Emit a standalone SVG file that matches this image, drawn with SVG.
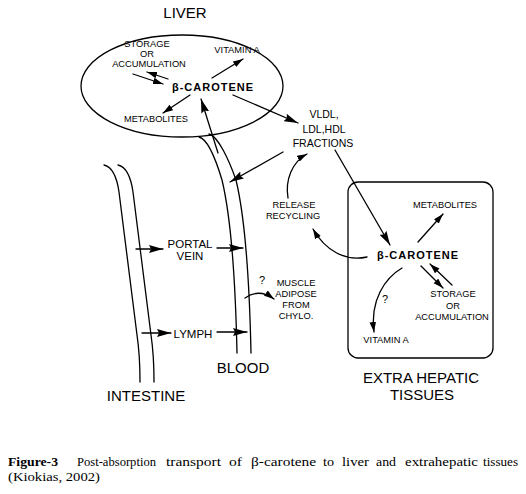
<svg xmlns="http://www.w3.org/2000/svg" width="526" height="494" viewBox="0 0 526 494">
<style>
  .ln{fill:none;stroke:#000;stroke-width:1.3;stroke-linecap:round}
  .t{font-family:"Liberation Sans",Arial,sans-serif;fill:#000;text-anchor:middle}
  .s{font-size:9.3px}
  .q{font-size:11px}
  .m{font-size:10.5px}
  .p{font-size:11.5px}
  .L{font-size:15px}
  .b{font-size:11px;font-weight:bold;letter-spacing:1px}
  .c{font-family:"Liberation Serif","Times New Roman",serif;font-size:13.5px;fill:#000}
</style>
<defs>
  <marker id="hs" markerUnits="userSpaceOnUse" markerWidth="11" markerHeight="7" refX="10" refY="3.25" orient="auto">
    <path d="M0,0 L10,3.25 L0,6.5 z" fill="#000"/>
  </marker>
  <marker id="hb" markerUnits="userSpaceOnUse" markerWidth="15" markerHeight="8" refX="14" refY="4" orient="auto">
    <path d="M0,0 L14,4 L0,8 L2,4 z" fill="#000"/>
  </marker>
</defs>
<rect width="526" height="494" fill="#fff"/>

<g id="liver">
  <ellipse cx="182" cy="86" rx="101" ry="51" class="ln"/>
  <text class="t L" x="185" y="18">LIVER</text>
  <text class="t s" x="147" y="47">STORAGE</text>
  <text class="t s" x="147" y="57">OR</text>
  <text class="t s" x="149" y="67">ACCUMULATION</text>
  <text class="t s" x="237" y="53">VITAMIN A</text>
  <text class="t b" x="213" y="91">β-CAROTENE</text>
  <text class="t s" x="156" y="122" textLength="64" lengthAdjust="spacingAndGlyphs">METABOLITES</text>
</g>

<g id="vldl">
  <text class="t m" x="324" y="118">VLDL,</text>
  <text class="t m" x="324" y="133">LDL,HDL</text>
  <text class="t m" x="323" y="147">FRACTIONS</text>
</g>

<g id="release">
  <text class="t s" x="294" y="208">RELEASE</text>
  <text class="t s" x="293" y="219">RECYCLING</text>
</g>

<g id="intestine">
  <path class="ln" d="M104,165 C113,167 117,178 119,192 L137,335 Q140,355 140,382"/>
  <path class="ln" d="M118,165 C127,167 131,178 133,192 L151,335 Q154,355 154,382"/>
  <text class="t L" x="146" y="401">INTESTINE</text>
</g>

<g id="blood">
  <path class="ln" d="M199,137 C208,139 216,160 222,180 C228,205 235,260 237,353"/>
  <path class="ln" d="M209,134 C218,136 229,160 236,180 C242,205 249,260 251,353"/>
  <text class="t L" x="243" y="373">BLOOD</text>
</g>

<g id="portal">
  <text class="t p" x="190" y="248">PORTAL</text>
  <text class="t p" x="190" y="260">VEIN</text>
</g>

<g id="lymph">
  <text class="t p" x="193" y="338">LYMPH</text>
</g>

<g id="muscle">
  <text class="t q" x="262" y="284">?</text>
  <text class="t s" x="296" y="286">MUSCLE</text>
  <text class="t s" x="296" y="297">ADIPOSE</text>
  <text class="t s" x="296" y="308">FROM</text>
  <text class="t s" x="296" y="319">CHYLO.</text>
</g>

<g id="extrahepatic">
  <rect x="348" y="182" width="145" height="176" rx="10" class="ln" stroke-width="1.5"/>
  <text class="t s" x="445" y="208" textLength="64" lengthAdjust="spacingAndGlyphs">METABOLITES</text>
  <text class="t b" x="418" y="259">β-CAROTENE</text>
  <text class="t q" x="385" y="303">?</text>
  <text class="t s" x="453" y="297">STORAGE</text>
  <text class="t s" x="453" y="309">OR</text>
  <text class="t s" x="452" y="320">ACCUMULATION</text>
  <text class="t s" x="386" y="343">VITAMIN A</text>
  <text class="t L" x="421" y="383">EXTRA HEPATIC</text>
  <text class="t L" x="422" y="400">TISSUES</text>
</g>

<g id="connectors">
  <line class="ln" x1="133" y1="74" x2="163" y2="84" marker-end="url(#hs)"/>
  <line class="ln" x1="168" y1="79" x2="147" y2="72" marker-end="url(#hs)"/>
  <line class="ln" x1="212" y1="78" x2="243" y2="59" marker-end="url(#hs)"/>
  <line class="ln" x1="190" y1="95" x2="163" y2="113" marker-end="url(#hs)"/>
  <line class="ln" x1="218" y1="153" x2="201" y2="99" marker-end="url(#hb)"/>
  <line class="ln" x1="233" y1="95" x2="298" y2="123" marker-end="url(#hb)"/>
  <line class="ln" x1="283" y1="152" x2="230" y2="182" marker-end="url(#hb)"/>
  <path class="ln" d="M288,198 C285,180 292,162 307,154" marker-end="url(#hs)"/>
  <line class="ln" x1="335" y1="150" x2="390" y2="245" marker-end="url(#hb)"/>
  <path class="ln" d="M367,257 C345,262 325,250 313,229" marker-end="url(#hs)"/>
  <line class="ln" x1="418" y1="242" x2="443" y2="214" marker-end="url(#hs)"/>
  <line class="ln" x1="421" y1="266" x2="443" y2="288" marker-end="url(#hs)"/>
  <line class="ln" x1="452" y1="285" x2="430" y2="264" marker-end="url(#hs)"/>
  <path class="ln" d="M402,268 C385,278 370,300 374,332" marker-end="url(#hs)"/>
  <path class="ln" d="M245,298 Q259,288 274,299" marker-end="url(#hs)"/>
  <line class="ln" x1="136" y1="249" x2="163" y2="249" marker-end="url(#hb)"/>
  <line class="ln" x1="217" y1="248" x2="243" y2="248" marker-end="url(#hb)"/>
  <line class="ln" x1="142" y1="333" x2="171" y2="333" marker-end="url(#hb)"/>
  <line class="ln" x1="217" y1="332" x2="247" y2="332" marker-end="url(#hb)"/>
</g>

<g id="caption">
  <text class="c" x="8" y="466" font-weight="bold" textLength="50" lengthAdjust="spacingAndGlyphs">Figure-3</text>
  <text class="c" x="77" y="466" textLength="79" lengthAdjust="spacingAndGlyphs">Post-absorption</text>
  <text class="c" x="166" y="466" textLength="55" lengthAdjust="spacingAndGlyphs">transport</text>
  <text class="c" x="229" y="466" textLength="13" lengthAdjust="spacingAndGlyphs">of</text>
  <text class="c" x="251" y="466" textLength="65" lengthAdjust="spacingAndGlyphs">β-carotene</text>
  <text class="c" x="323" y="466" textLength="11" lengthAdjust="spacingAndGlyphs">to</text>
  <text class="c" x="342" y="466" textLength="27" lengthAdjust="spacingAndGlyphs">liver</text>
  <text class="c" x="376" y="466" textLength="20" lengthAdjust="spacingAndGlyphs">and</text>
  <text class="c" x="405" y="466" textLength="73" lengthAdjust="spacingAndGlyphs">extrahepatic</text>
  <text class="c" x="483" y="466" textLength="35" lengthAdjust="spacingAndGlyphs">tissues</text>
  <text class="c" x="8" y="481" textLength="92" lengthAdjust="spacingAndGlyphs">(Kiokias, 2002)</text>
</g>
</svg>
